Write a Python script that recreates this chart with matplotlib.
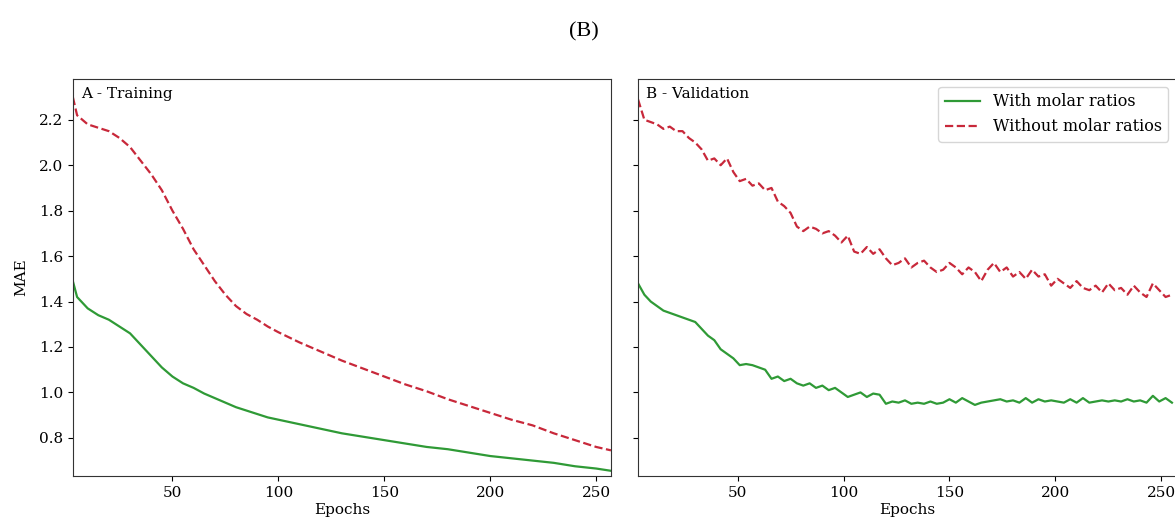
import numpy as np
import matplotlib.pyplot as plt

plt.rcParams['font.family'] = 'DejaVu Serif'
plt.rcParams['font.size'] = 11

# training curves (sampled epochs)
train_epochs = [3, 5, 10, 15, 20, 25, 30, 35, 40, 45, 50, 55, 60, 65, 70, 75, 80, 85, 90, 95,
                100, 110, 120, 130, 140, 150, 160, 170, 180, 190, 200, 210, 220, 230, 240, 250, 257]
train_with = [1.49, 1.42, 1.37, 1.34, 1.32, 1.29, 1.26, 1.21, 1.16, 1.11, 1.07, 1.04, 1.02, 0.995,
              0.975, 0.955, 0.935, 0.92, 0.905, 0.89, 0.88, 0.86, 0.84, 0.82, 0.805, 0.79, 0.775,
              0.76, 0.75, 0.735, 0.72, 0.71, 0.70, 0.69, 0.675, 0.665, 0.655]
train_without = [2.30, 2.22, 2.18, 2.165, 2.15, 2.12, 2.08, 2.02, 1.96, 1.89, 1.80, 1.72, 1.63, 1.56,
                 1.49, 1.43, 1.38, 1.345, 1.32, 1.29, 1.265, 1.22, 1.18, 1.14, 1.105, 1.07, 1.035,
                 1.005, 0.97, 0.94, 0.91, 0.88, 0.855, 0.82, 0.79, 0.76, 0.745]

# validation curves (every 3 epochs)
val_epochs = np.arange(3, 256, 3)
val_with = [1.48, 1.43, 1.40, 1.38, 1.36, 1.35, 1.34, 1.33, 1.32, 1.31, 1.28, 1.25, 1.23, 1.19,
            1.17, 1.15, 1.12, 1.125, 1.12, 1.11, 1.10, 1.06, 1.07, 1.05, 1.06, 1.04, 1.03, 1.04,
            1.02, 1.03, 1.01, 1.02, 1.00, 0.98, 0.99, 1.00, 0.98, 0.995, 0.99, 0.95, 0.96, 0.955,
            0.965, 0.95, 0.955, 0.95, 0.96, 0.95, 0.955, 0.97, 0.955, 0.975, 0.96, 0.945, 0.955,
            0.96, 0.965, 0.97, 0.96, 0.965, 0.955, 0.975, 0.955, 0.97, 0.96, 0.965, 0.96, 0.955,
            0.97, 0.955, 0.975, 0.955, 0.96, 0.965, 0.96, 0.965, 0.96, 0.97, 0.96, 0.965, 0.955,
            0.985, 0.96, 0.975, 0.955]
val_without = [2.29, 2.20, 2.19, 2.18, 2.16, 2.17, 2.15, 2.15, 2.12, 2.10, 2.07, 2.02, 2.03, 2.00,
               2.03, 1.97, 1.93, 1.94, 1.91, 1.92, 1.89, 1.90, 1.84, 1.82, 1.79, 1.73, 1.71, 1.73,
               1.72, 1.70, 1.71, 1.69, 1.66, 1.69, 1.62, 1.61, 1.64, 1.61, 1.63, 1.59, 1.56, 1.57,
               1.59, 1.55, 1.57, 1.58, 1.55, 1.53, 1.54, 1.57, 1.55, 1.52, 1.55, 1.53, 1.49, 1.54,
               1.57, 1.53, 1.55, 1.51, 1.53, 1.50, 1.54, 1.51, 1.52, 1.47, 1.50, 1.48, 1.46, 1.49,
               1.46, 1.45, 1.47, 1.44, 1.48, 1.45, 1.46, 1.43, 1.47, 1.44, 1.42, 1.48, 1.45, 1.42,
               1.43]

green = '#2f9a36'
red = '#c8283a'

fig = plt.figure(figsize=(11.75, 5.26), dpi=100)
ax1 = fig.add_axes([0.062, 0.095, 0.458, 0.755])
ax2 = fig.add_axes([0.543, 0.095, 0.458, 0.755], sharey=ax1)

ax1.plot(train_epochs, train_with, color=green, lw=1.6)
ax1.plot(train_epochs, train_without, color=red, lw=1.6, ls='--')
ax2.plot(val_epochs, val_with, color=green, lw=1.6, label='With molar ratios')
ax2.plot(val_epochs, val_without, color=red, lw=1.6, ls='--', label='Without molar ratios')

for ax, txt in [(ax1, 'A - Training'), (ax2, 'B - Validation')]:
    ax.set_xlim(3, 257)
    ax.set_xticks([50, 100, 150, 200, 250])
    ax.tick_params(axis='x', pad=4)
    ax.set_xlabel('Epochs', labelpad=2)
    ax.text(0.015, 0.98, txt, transform=ax.transAxes, va='top', ha='left')
    for s in ax.spines.values():
        s.set_color('#333333')

ax1.set_ylim(0.632, 2.38)
ax1.set_yticks([0.8, 1.0, 1.2, 1.4, 1.6, 1.8, 2.0, 2.2])
ax1.set_ylabel('MAE', labelpad=8)
plt.setp(ax2.get_yticklabels(), visible=False)
ax2.legend(loc='upper right', fontsize=11.5, handlelength=2.2)

fig.text(0.497, 0.94, '(B)', ha='center', va='center', family='Liberation Serif', fontsize=16)

plt.savefig('out.png', dpi=100)
